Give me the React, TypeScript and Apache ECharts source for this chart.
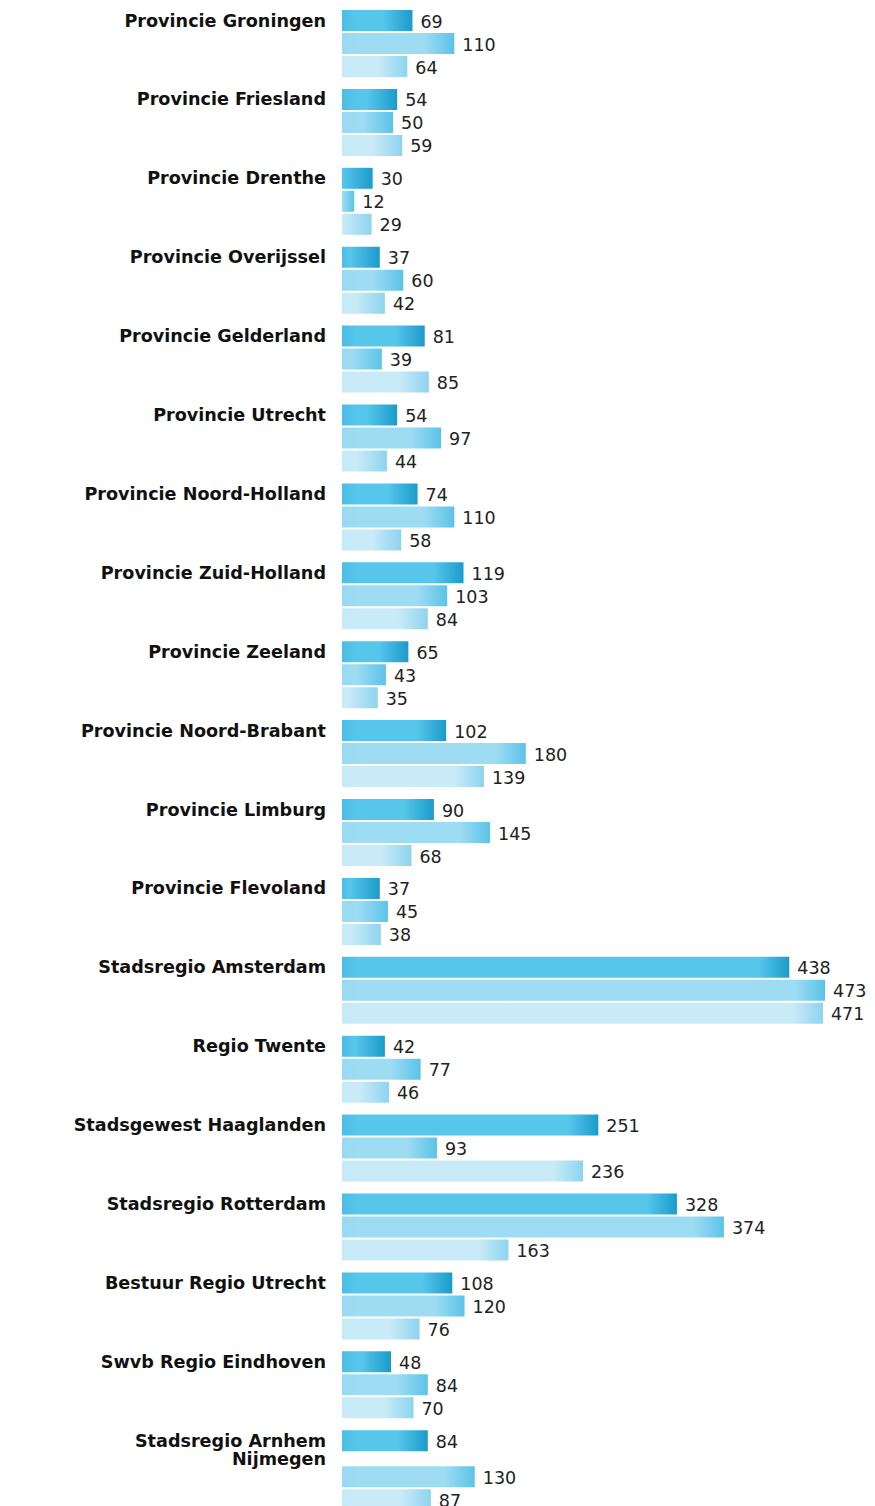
import React, { useEffect, useRef } from "react";
import * as echarts from "echarts";

const categories = [
  "Provincie Groningen",
  "Provincie Friesland",
  "Provincie Drenthe",
  "Provincie Overijssel",
  "Provincie Gelderland",
  "Provincie Utrecht",
  "Provincie Noord-Holland",
  "Provincie Zuid-Holland",
  "Provincie Zeeland",
  "Provincie Noord-Brabant",
  "Provincie Limburg",
  "Provincie Flevoland",
  "Stadsregio Amsterdam",
  "Regio Twente",
  "Stadsgewest Haaglanden",
  "Stadsregio Rotterdam",
  "Bestuur Regio Utrecht",
  "Swvb Regio Eindhoven",
  "Stadsregio Arnhem\nNijmegen",
];

const series1 = [69, 54, 30, 37, 81, 54, 74, 119, 65, 102, 90, 37, 438, 42, 251, 328, 108, 48, 84];
const series2 = [110, 50, 12, 60, 39, 97, 110, 103, 43, 180, 145, 45, 473, 77, 93, 374, 120, 84, 130];
const series3 = [64, 59, 29, 42, 85, 44, 58, 84, 35, 139, 68, 38, 471, 46, 236, 163, 76, 70, 87];

const allSeries = [series1, series2, series3];

const palettes = [
  { start: "#4cbde6", base: "#57c6eb", end: "#1b9bcb" },
  { start: "#98daf2", base: "#9ddcf3", end: "#5bc3e8" },
  { start: "#c6eaf7", base: "#c9ebf8", end: "#8ed3ef" },
];

const BAR_H = 21;
const BAR_STEP = 23;
const EXTRA_LINE = 13;

export default function App() {
  const ref = useRef<HTMLDivElement>(null);

  useEffect(() => {
    if (!ref.current) return;
    const chart = echarts.init(ref.current, undefined, { renderer: "svg" });

    const makeRender = (b: number) => (params: any, api: any) => {
      const v = api.value(0);
      const c = api.value(1);
      const start = api.coord([0, c]);
      const end = api.coord([v, c]);
      const lines = categories[c].split("\n").length;
      const extra = b > 0 ? (lines - 1) * EXTRA_LINE : 0;
      const top = start[1] - 1.5 + b * BAR_STEP + extra;
      const w = Math.max(end[0] - start[0], 1);
      const p = palettes[b];
      const gradStart = Math.max(0, (w - 30) / w);
      const leftEnd = Math.min(gradStart, 15 / w);
      const grad = new echarts.graphic.LinearGradient(
        start[0],
        0,
        start[0] + w,
        0,
        [
          { offset: 0, color: p.start },
          { offset: leftEnd, color: p.base },
          { offset: gradStart, color: p.base },
          { offset: 1, color: p.end },
        ],
        true
      );
      return {
        type: "group",
        children: [
          {
            type: "rect",
            shape: { x: start[0], y: top, width: w, height: BAR_H },
            style: { fill: grad },
          },
          {
            type: "text",
            style: {
              x: end[0] + 8,
              y: top + BAR_H / 2 + 1,
              text: String(v),
              fill: "#222",
              fontSize: 17.5,
              fontFamily: "DejaVu Sans",
              verticalAlign: "middle",
              align: "left",
            },
          },
        ],
      };
    };

    chart.setOption({
      animation: false,
      grid: { left: 342, right: 2, top: 11.5, height: 18 * 78.9, containLabel: false },
      xAxis: {
        type: "value",
        min: 0,
        max: 520,
        show: false,
      },
      yAxis: {
        type: "category",
        data: categories,
        inverse: true,
        boundaryGap: false,
        axisLine: { show: false },
        axisTick: { show: false },
        splitLine: { show: false },
        axisLabel: {
          fontWeight: "bold",
          fontSize: 17.6,
          fontFamily: "DejaVu Sans",
          color: "#111",
          verticalAlign: "top",
          lineHeight: 18,
          margin: 16,
          align: "right",
          interval: 0,
        },
      },
      series: allSeries.map((vals, b) => ({
        type: "custom",
        renderItem: makeRender(b),
        encode: { x: 0, y: 1 },
        data: vals.map((v, i) => [v, i]),
        clip: false,
      })),
    });

    return () => chart.dispose();
  }, []);

  return (
    <div
      ref={ref}
      style={{ position: "absolute", left: 0, top: 0, width: 875, height: 1506, background: "#fff" }}
    />
  );
}
